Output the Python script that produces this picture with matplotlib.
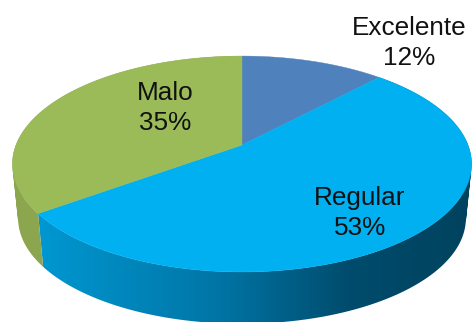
import numpy as np
import matplotlib
matplotlib.use("Agg")
import matplotlib.pyplot as plt
from matplotlib.colors import LinearSegmentedColormap
from matplotlib.path import Path
from matplotlib.patches import PathPatch

plt.rcParams['font.family'] = ['Liberation Sans', 'DejaVu Sans']

# Data, clockwise from 12 o'clock
categories = ['Excelente', 'Regular', 'Malo']
values = [12, 53, 35]
top_colors = ['#4F81BD', '#00B0F0', '#9BBB59']
label_pos = [(409, 43), (360, 213), (165, 108)]

# Perspective of the disc, in pixels
cx, cy = 242, 145
rx, ry = 226, 104.6
k = 0.176
depth_cy = 200
depth_scale = 0.975


def project(theta, bottom=False):
    u = np.sin(theta)
    v = np.cos(theta)
    w = 1 + k * v
    x = rx * u / w
    y = -ry * v / w
    if bottom:
        return cx + depth_scale * x, depth_cy + depth_scale * y
    return cx + x, cy + y


def quad_path(pts):
    # every quad wound the same way, so the compound path fills as a union
    xs, ys = zip(*pts)
    area = sum(xs[n] * ys[(n + 1) % 4] - xs[(n + 1) % 4] * ys[n] for n in range(4))
    if area < 0:
        pts = pts[::-1]
    return Path(pts + [pts[0]], closed=True)


fig = plt.figure(figsize=(4.72, 3.22), dpi=100)
ax = fig.add_axes([0, 0, 1, 1])

edges = np.cumsum([0] + values) / sum(values) * 2 * np.pi

# Side wall: a left to right gradient clipped to the swept outline
wall_cmap = LinearSegmentedColormap.from_list(
    'wall', [(0, '#0096D0'), (0.4, '#0076A6'), (0.72, '#004B6C'), (1, '#00435E')])
green_cmap = LinearSegmentedColormap.from_list('green', ['#8BA64E', '#84A049'])
ramp = np.linspace(0, 1, 430).reshape(1, -1)

for i, (start, stop) in enumerate(zip(edges[:-1], edges[1:])):
    if categories[i] == 'Excelente':
        continue
    th = np.linspace(start, stop, 160)
    tx, ty = project(th)
    bx, by = project(th, bottom=True)
    quads = []
    for j in range(len(th) - 1):
        quads.append(quad_path([(tx[j], ty[j]), (tx[j + 1], ty[j + 1]),
                                (bx[j + 1], by[j + 1]), (bx[j], by[j])]))
    outline = Path.make_compound_path(*quads)
    cmap = wall_cmap if categories[i] == 'Regular' else green_cmap
    im = ax.imshow(ramp, cmap=cmap, extent=(43, 473, 330, 0), aspect='auto', zorder=1,
                   vmin=0, vmax=1)
    im.set_clip_path(PathPatch(outline, transform=ax.transData))

    # the piece of the wall left of the ramp start keeps the first colour
    if min(bx.min(), tx.min()) < 43:
        im2 = ax.imshow([[0, 0]], cmap=cmap, extent=(0, 43, 330, 0), aspect='auto',
                        zorder=1, vmin=0, vmax=1)
        im2.set_clip_path(PathPatch(outline, transform=ax.transData))

ax.set_xlim(0, 472)
ax.set_ylim(322, 0)
ax.axis('off')

# Top face
for i, (start, stop) in enumerate(zip(edges[:-1], edges[1:])):
    th = np.linspace(start, stop, 200)
    x, y = project(th)
    ax.fill(np.r_[cx, x], np.r_[cy, y], color=top_colors[i], lw=0.3, zorder=2)

for name, val, (lx, ly) in zip(categories, values, label_pos):
    ax.text(lx, ly, f'{name}\n{val}%', ha='center', va='center', fontsize=18.8,
            color='#111111', linespacing=1.32, zorder=3)

fig.savefig('out.png', dpi=100)
